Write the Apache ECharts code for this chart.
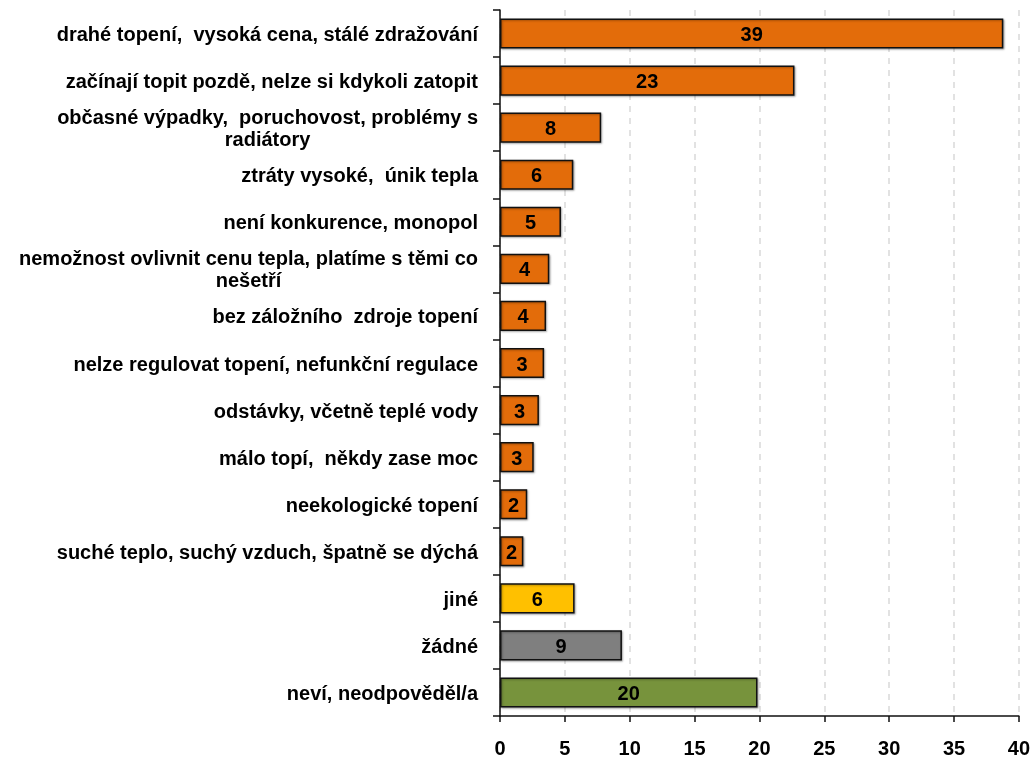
<!DOCTYPE html>
<html>
<head>
<meta charset="utf-8">
<script src="https://cdn.jsdelivr.net/npm/echarts@6/dist/echarts.min.js"></script>
<style>
html,body{margin:0;padding:0;background:#fff;}
#chart{width:1033px;height:762px;}
</style>
</head>
<body>
<div id="chart"></div>
<script>
const categories = [
  "drahé topení,  vysoká cena, stálé zdražování",
  "začínají topit pozdě, nelze si kdykoli zatopit",
  "občasné výpadky,  poruchovost, problémy s\nradiátory",
  "ztráty vysoké,  únik tepla",
  "není konkurence, monopol",
  "nemožnost ovlivnit cenu tepla, platíme s těmi co\nnešetří",
  "bez záložního  zdroje topení",
  "nelze regulovat topení, nefunkční regulace",
  "odstávky, včetně teplé vody",
  "málo topí,  někdy zase moc",
  "neekologické topení",
  "suché teplo, suchý vzduch, špatně se dýchá",
  "jiné",
  "žádné",
  "neví, neodpověděl/a"
];
const values = [38.8, 22.7, 7.8, 5.65, 4.7, 3.8, 3.55, 3.4, 3.0, 2.6, 2.1, 1.8, 5.75, 9.4, 19.85];
const xTicks = { min: 0, max: 40, interval: 5 };

const palette = { main: '#E36C0A', other: '#FFC000', none: '#7F7F7F', dk: '#77933C' };
function colorFor(name) {
  if (name === 'jiné') return palette.other;
  if (name === 'žádné') return palette.none;
  if (name === 'neví, neodpověděl/a') return palette.dk;
  return palette.main;
}

const chart = echarts.init(document.getElementById('chart'));
const FONT = '"Liberation Sans", Arial, sans-serif';
chart.setOption({
  animation: false,
  grid: { left: 500, right: 12, top: 10, bottom: 46, containLabel: false },
  xAxis: {
    type: 'value', min: xTicks.min, max: xTicks.max, interval: xTicks.interval,
    axisLine: { show: true, lineStyle: { color: '#111', width: 1.5 } },
    axisTick: { show: true, length: 6, lineStyle: { color: '#111', width: 1.5 } },
    axisLabel: { margin: 23, color: '#000', fontFamily: FONT, fontWeight: 'bold', fontSize: 20 },
    splitLine: { show: true, lineStyle: { color: '#D9D9D9', type: [6, 6], width: 1.5 } }
  },
  yAxis: {
    type: 'category', data: categories, inverse: true,
    axisLine: { show: true, lineStyle: { color: '#111', width: 1.5 } },
    axisTick: { show: true, length: 7, lineStyle: { color: '#111', width: 1.5 } },
    axisLabel: {
      margin: 22, color: '#000', fontFamily: FONT, fontWeight: 'bold', fontSize: 20, lineHeight: 22,
      padding: [4, 0, 0, 0],
      formatter: function (v) { return v.split('\n').map(function (l) { return '{c|' + l + '}'; }).join('\n'); },
      rich: { c: { align: 'center', color: '#000', fontFamily: FONT, fontWeight: 'bold', fontSize: 20, lineHeight: 22 } }
    }
  },
  series: [{
    type: 'bar',
    data: values.map(function (v, i) { return { value: v, itemStyle: { color: colorFor(categories[i]) } }; }),
    barCategoryGap: '36%',
    itemStyle: { borderColor: '#111', borderWidth: 1.5, shadowColor: 'rgba(0,0,0,0.3)', shadowOffsetX: 1, shadowOffsetY: 1, shadowBlur: 2 },
    label: {
      show: true, position: 'inside', offset: [0, 2], color: '#000', fontFamily: FONT, fontWeight: 'bold', fontSize: 20,
      formatter: function (p) { return Math.round(p.value); }
    }
  }]
});
</script>
</body>
</html>
